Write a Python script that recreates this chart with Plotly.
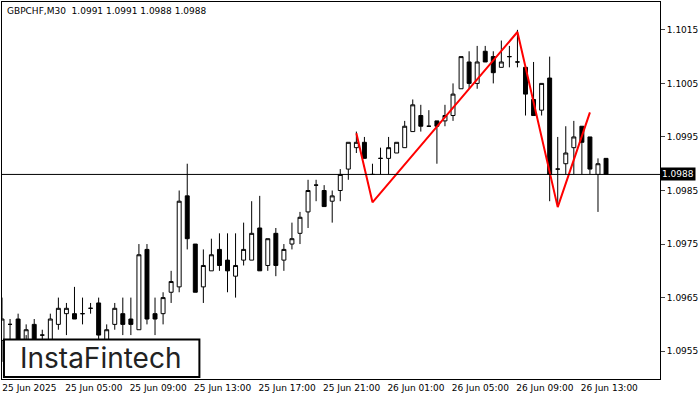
import plotly.graph_objects as go

opens  = [1.0957,1.0960,1.0961,1.0957,1.0960,1.0958,1.0957,1.0960,1.0962,1.0962,1.0962,1.0963,1.0964,1.0957,1.0960,1.0962,1.0961,1.0959,1.0974,1.0962,
          1.0962,1.0966,1.0967,1.0984,1.0975,1.0967,1.0970,1.0974,1.0972,1.0969,1.0972,1.0972,1.0978,1.0971,1.0977,1.0972,1.0975,1.0977,1.0981,1.0986,
          1.0985,1.0983,1.0985,1.0989,1.0993,1.0994,1.0988,1.0991,1.0991,1.0992,1.0993,1.0996,1.0999,1.0997,1.0998,1.0998,1.0999,1.1004,1.1009,1.1005,
          1.1011,1.1010,1.1008,1.1010,1.1009,1.1008,1.1002,1.1000,1.1006,1.0989,1.0990,1.0993,1.0997,1.0995,1.0988,1.0991]
closes = [1.0961,1.0960,1.0957,1.0959,1.0957,1.0958,1.0961,1.0963,1.0963,1.0961,1.0962,1.0963,1.0958,1.0959,1.0963,1.0960,1.0960,1.0973,1.0961,1.0961,
          1.0965,1.0968,1.0983,1.0976,1.0966,1.0971,1.0973,1.0971,1.0970,1.0971,1.0974,1.0977,1.0970,1.0976,1.0971,1.0974,1.0976,1.0980,1.0985,1.0986,
          1.0982,1.0984,1.0988,1.0994,1.0994,1.0991,1.0988,1.0991,1.0993,1.0994,1.0997,1.1001,1.0997,1.0997,1.0997,1.0999,1.1003,1.1010,1.1005,1.1009,
          1.1009,1.1007,1.1009,1.1010,1.1009,1.1003,1.0999,1.1005,1.0988,1.0989,1.0992,1.0995,1.0994,1.0989,1.0990,1.0988]
highs  = [1.0965,1.0961,1.0962,1.0960,1.0961,1.0959,1.0962,1.0965,1.0964,1.0967,1.0965,1.0964,1.0965,1.0960,1.0964,1.0965,1.0965,1.0975,1.0975,1.0965,
          1.0966,1.0970,1.0985,1.0990,1.0975,1.0974,1.0976,1.0977,1.0977,1.0977,1.0979,1.0983,1.0984,1.0976,1.0978,1.0975,1.0979,1.0981,1.0987,1.0987,
          1.0986,1.0985,1.0989,1.0994,1.0996,1.0995,1.0990,1.0993,1.0995,1.0994,1.0998,1.1002,1.1001,1.1000,1.0998,1.1001,1.1005,1.1010,1.1011,1.1012,
          1.1012,1.1011,1.1013,1.1012,1.1015,1.1008,1.1009,1.1005,1.1010,1.0995,1.0997,1.0998,1.0997,1.0995,1.0991,1.0991]
lows   = [1.0953,1.0955,1.0955,1.0958,1.0955,1.0957,1.0956,1.0959,1.0958,1.0961,1.0960,1.0962,1.0956,1.0956,1.0959,1.0958,1.0958,1.0959,1.0960,1.0958,
          1.0960,1.0964,1.0966,1.0974,1.0966,1.0964,1.0970,1.0970,1.0966,1.0965,1.0971,1.0972,1.0970,1.0970,1.0969,1.0970,1.0974,1.0975,1.0978,1.0983,
          1.0982,1.0979,1.0983,1.0987,1.0992,1.0991,1.0988,1.0988,1.0988,1.0992,1.0993,1.0996,1.0996,1.0997,1.0990,1.0997,1.0998,1.1004,1.1004,1.1004,
          1.1009,1.1005,1.1008,1.1008,1.1008,1.0999,1.0999,1.0999,1.0983,1.0982,1.0988,1.0988,1.0988,1.0988,1.0981,1.0988]

pattern_idx    = [44, 46, 64, 69, 73]
pattern_prices = [1.09957, 1.09828, 1.10146, 1.09819, 1.09996]

tick_labels = ["25 Jun 2025","25 Jun 05:00","25 Jun 09:00","25 Jun 13:00","25 Jun 17:00",
               "25 Jun 21:00","26 Jun 01:00","26 Jun 05:00","26 Jun 09:00","26 Jun 13:00"]
y_ticks = [1.0955,1.0965,1.0975,1.0985,1.0995,1.1005,1.1015]
last_price = 1.0988

x = list(range(len(opens)))
fig = go.Figure()
fig.add_trace(go.Candlestick(x=x, open=opens, high=highs, low=lows, close=closes,
    increasing=dict(fillcolor="white", line=dict(color="black", width=1)),
    decreasing=dict(fillcolor="black", line=dict(color="black", width=1)),
    whiskerwidth=0, showlegend=False, hoverinfo="skip"))
fig.add_trace(go.Scatter(x=pattern_idx, y=pattern_prices, mode="lines",
    line=dict(color="#ff0000", width=2), showlegend=False, hoverinfo="skip"))
fig.add_hline(y=last_price, line=dict(color="black", width=1))

fig.update_layout(width=700, height=400, margin=dict(l=2, r=40, t=2, b=21, autoexpand=False),
    paper_bgcolor="white", plot_bgcolor="white",
    font=dict(family="DejaVu Sans", size=9, color="black"))
fig.update_xaxes(range=[0.0, 81.7], rangeslider=dict(visible=False), automargin=False,
    tickvals=[8*i+3.4 for i in range(len(tick_labels))], ticktext=tick_labels,
    showgrid=False, showline=True, linecolor="black", mirror=True, ticks="", zeroline=False,
    tickfont=dict(size=9))
fig.update_yaxes(side="right", range=[1.09498, 1.10202], tickvals=y_ticks, automargin=False,
    ticktext=[f"{v:.4f}" for v in y_ticks], showgrid=False, showline=True,
    linecolor="black", mirror=True, ticks="outside", ticklen=4, zeroline=False,
    tickfont=dict(size=9))

fig.add_annotation(xref="paper", yref="paper", x=0.005, y=0.995, xanchor="left", yanchor="top",
    text="GBPCHF,M30  1.0991 1.0991 1.0988 1.0988", showarrow=False, font=dict(size=9))
fig.add_annotation(xref="paper", yref="y", x=1.0, y=last_price, xanchor="left", yanchor="middle",
    text="1.0988", showarrow=False, bgcolor="black", font=dict(color="white", size=9), borderpad=1)
fig.add_shape(type="rect", xref="paper", yref="paper", x0=0.003, x1=0.30, y0=0.005, y1=0.105,
    fillcolor="white", line=dict(color="black", width=2))
fig.add_annotation(xref="paper", yref="paper", x=0.025, y=0.055, xanchor="left", yanchor="middle",
    text="InstaFintech", showarrow=False, font=dict(family="Inter", size=28, color="#222222"))

fig.write_html("out.html", config={"displayModeBar": False},
               post_script="document.body.style.margin='0';")
